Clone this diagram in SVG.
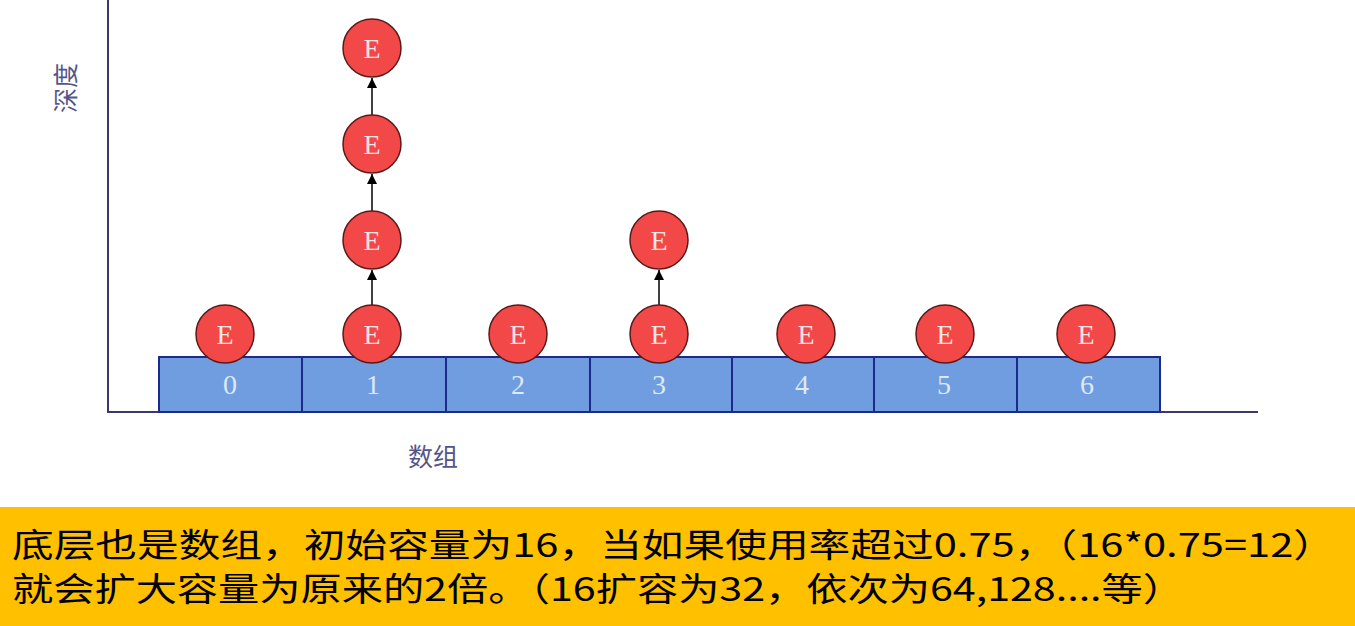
<svg xmlns="http://www.w3.org/2000/svg" width="1355" height="626" viewBox="0 0 1355 626">
<defs>
<style>
.cell{fill:#6f9de0;stroke:#1c2a8c;stroke-width:2}
.num{font-family:"Liberation Serif",serif;font-size:28px;fill:#dde9f7;text-anchor:middle}
.node circle{fill:#f24848;stroke:#5a1a1a;stroke-width:1.5}
.node text{font-family:"Liberation Serif",serif;font-size:28px;fill:#fbe3e3;text-anchor:middle}
.axis{stroke:#3a3a6a;stroke-width:2;fill:none}
.lab{font-family:"Noto Sans CJK SC",sans-serif;font-size:25px;fill:#55558a}
.edge{stroke:#000;stroke-width:1.5;fill:none;marker-end:url(#ah)}
.note{font-family:"Noto Sans CJK SC",sans-serif;font-size:33px;fill:#000}
</style>
<marker id="ah" viewBox="0 0 10 10" refX="10" refY="5" markerWidth="14" markerHeight="10" markerUnits="userSpaceOnUse" orient="auto"><path d="M0,0 L10,5 L0,10 z" fill="#000"/></marker>
</defs>
<rect width="1355" height="626" fill="#fff"/>
<g id="axes">
<path class="axis" d="M108,0 V412 H1258"/>
</g>
<g id="label-depth"><text class="lab" transform="translate(75,113) rotate(-90)">深度</text></g>
<g id="label-array"><text class="lab" x="408" y="466">数组</text></g>
<g id="array">
<rect class="cell" x="159" y="357" width="143" height="55"/>
<rect class="cell" x="302" y="357" width="144" height="55"/>
<rect class="cell" x="446" y="357" width="144" height="55"/>
<rect class="cell" x="590" y="357" width="142" height="55"/>
<rect class="cell" x="732" y="357" width="142" height="55"/>
<rect class="cell" x="874" y="357" width="143" height="55"/>
<rect class="cell" x="1017" y="357" width="143" height="55"/>
<text class="num" x="230" y="394">0</text>
<text class="num" x="373" y="394">1</text>
<text class="num" x="518" y="394">2</text>
<text class="num" x="659" y="394">3</text>
<text class="num" x="802" y="394">4</text>
<text class="num" x="944" y="394">5</text>
<text class="num" x="1087" y="394">6</text>
</g>
<g id="connectors">
<line class="edge" x1="372" y1="305" x2="372" y2="270"/>
<line class="edge" x1="372" y1="211" x2="372" y2="174"/>
<line class="edge" x1="372" y1="115" x2="372" y2="78"/>
<line class="edge" x1="659" y1="305" x2="659" y2="270"/>
</g>
<g id="n0" class="node"><circle cx="225" cy="334" r="29"/><text x="225" y="344">E</text></g>
<g id="n1a" class="node"><circle cx="372" cy="334" r="29"/><text x="372" y="344">E</text></g>
<g id="n1b" class="node"><circle cx="372" cy="240" r="29"/><text x="372" y="250">E</text></g>
<g id="n1c" class="node"><circle cx="372" cy="144" r="29"/><text x="372" y="154">E</text></g>
<g id="n1d" class="node"><circle cx="372" cy="48" r="29"/><text x="372" y="58">E</text></g>
<g id="n2" class="node"><circle cx="518" cy="334" r="29"/><text x="518" y="344">E</text></g>
<g id="n3a" class="node"><circle cx="659" cy="334" r="29"/><text x="659" y="344">E</text></g>
<g id="n3b" class="node"><circle cx="659" cy="240" r="29"/><text x="659" y="250">E</text></g>
<g id="n4" class="node"><circle cx="806" cy="334" r="29"/><text x="806" y="344">E</text></g>
<g id="n5" class="node"><circle cx="945" cy="334" r="29"/><text x="945" y="344">E</text></g>
<g id="n6" class="node"><circle cx="1086" cy="334" r="29"/><text x="1086" y="344">E</text></g>
<g id="note">
<rect x="0" y="507" width="1355" height="119" fill="#ffc000"/>
<text class="note" x="12" y="557" textLength="1323" lengthAdjust="spacingAndGlyphs">底层也是数组，初始容量为16，当如果使用率超过0.75，（16*0.75=12）</text>
<text class="note" x="12" y="601" textLength="1172" lengthAdjust="spacingAndGlyphs">就会扩大容量为原来的2倍。（16扩容为32，依次为64,128....等）</text>
</g>
</svg>
